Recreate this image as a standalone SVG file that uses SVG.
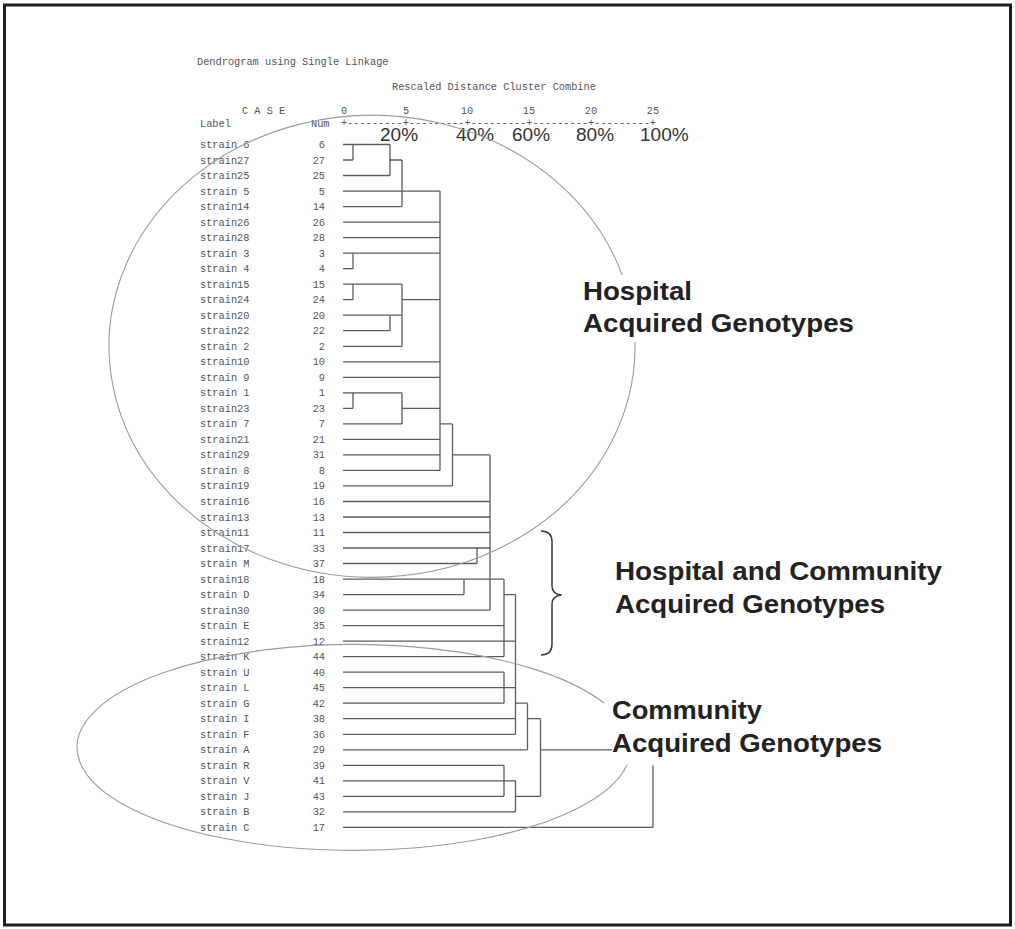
<svg xmlns="http://www.w3.org/2000/svg" width="1015" height="929" viewBox="0 0 1015 929">
<style>
.mono{font-family:"Liberation Mono","DejaVu Sans Mono",monospace;font-size:10.3px;fill:#555}
.num{text-anchor:end}
.pct{font-family:"Liberation Sans",Arial,sans-serif;font-size:19px;fill:#333}
.big{font-family:"Liberation Sans",Arial,sans-serif;font-weight:bold;font-size:25px;fill:#222}
.ln{stroke:#5c5c5c;stroke-width:1.3;fill:none}
.ell{stroke:#9c9c9c;stroke-width:1.1;fill:none}
</style>
<rect x="0" y="0" width="1015" height="929" fill="#fff"/>
<rect x="4.5" y="5" width="1006" height="920" fill="none" stroke="#1e1e1e" stroke-width="3"/>

<g id="header">
<text class="mono" x="197" y="65">Dendrogram using Single Linkage</text>
<text class="mono" x="392" y="90">Rescaled Distance Cluster Combine</text>
<text class="mono" x="242" y="114">C A S E</text>
<text class="mono" x="344" y="114" text-anchor="middle">0</text>
<text class="mono" x="406" y="114" text-anchor="middle">5</text>
<text class="mono" x="467" y="114" text-anchor="middle">10</text>
<text class="mono" x="529" y="114" text-anchor="middle">15</text>
<text class="mono" x="591" y="114" text-anchor="middle">20</text>
<text class="mono" x="653" y="114" text-anchor="middle">25</text>
<text class="mono" x="200" y="127">Label</text>
<text class="mono" x="311" y="127">Num</text>
<text class="mono" x="340.9" y="126">+---------+---------+---------+---------+---------+</text>
<text class="pct" x="380" y="140.5">20%</text>
<text class="pct" x="456" y="140.5">40%</text>
<text class="pct" x="512" y="140.5">60%</text>
<text class="pct" x="576" y="140.5">80%</text>
<text class="pct" x="640" y="140.5">100%</text>
</g>

<g id="rows">
<g id="r0"><text class="mono" x="200" y="148">strain 6</text><text class="mono num" x="325" y="148">6</text></g>
<g id="r1"><text class="mono" x="200" y="163.5">strain27</text><text class="mono num" x="325" y="163.5">27</text></g>
<g id="r2"><text class="mono" x="200" y="179">strain25</text><text class="mono num" x="325" y="179">25</text></g>
<g id="r3"><text class="mono" x="200" y="194.6">strain 5</text><text class="mono num" x="325" y="194.6">5</text></g>
<g id="r4"><text class="mono" x="200" y="210.1">strain14</text><text class="mono num" x="325" y="210.1">14</text></g>
<g id="r5"><text class="mono" x="200" y="225.6">strain26</text><text class="mono num" x="325" y="225.6">26</text></g>
<g id="r6"><text class="mono" x="200" y="241.1">strain28</text><text class="mono num" x="325" y="241.1">28</text></g>
<g id="r7"><text class="mono" x="200" y="256.6">strain 3</text><text class="mono num" x="325" y="256.6">3</text></g>
<g id="r8"><text class="mono" x="200" y="272.2">strain 4</text><text class="mono num" x="325" y="272.2">4</text></g>
<g id="r9"><text class="mono" x="200" y="287.7">strain15</text><text class="mono num" x="325" y="287.7">15</text></g>
<g id="r10"><text class="mono" x="200" y="303.2">strain24</text><text class="mono num" x="325" y="303.2">24</text></g>
<g id="r11"><text class="mono" x="200" y="318.7">strain20</text><text class="mono num" x="325" y="318.7">20</text></g>
<g id="r12"><text class="mono" x="200" y="334.2">strain22</text><text class="mono num" x="325" y="334.2">22</text></g>
<g id="r13"><text class="mono" x="200" y="349.8">strain 2</text><text class="mono num" x="325" y="349.8">2</text></g>
<g id="r14"><text class="mono" x="200" y="365.3">strain10</text><text class="mono num" x="325" y="365.3">10</text></g>
<g id="r15"><text class="mono" x="200" y="380.8">strain 9</text><text class="mono num" x="325" y="380.8">9</text></g>
<g id="r16"><text class="mono" x="200" y="396.3">strain 1</text><text class="mono num" x="325" y="396.3">1</text></g>
<g id="r17"><text class="mono" x="200" y="411.8">strain23</text><text class="mono num" x="325" y="411.8">23</text></g>
<g id="r18"><text class="mono" x="200" y="427.4">strain 7</text><text class="mono num" x="325" y="427.4">7</text></g>
<g id="r19"><text class="mono" x="200" y="442.9">strain21</text><text class="mono num" x="325" y="442.9">21</text></g>
<g id="r20"><text class="mono" x="200" y="458.4">strain29</text><text class="mono num" x="325" y="458.4">31</text></g>
<g id="r21"><text class="mono" x="200" y="473.9">strain 8</text><text class="mono num" x="325" y="473.9">8</text></g>
<g id="r22"><text class="mono" x="200" y="489.4">strain19</text><text class="mono num" x="325" y="489.4">19</text></g>
<g id="r23"><text class="mono" x="200" y="505">strain16</text><text class="mono num" x="325" y="505">16</text></g>
<g id="r24"><text class="mono" x="200" y="520.5">strain13</text><text class="mono num" x="325" y="520.5">13</text></g>
<g id="r25"><text class="mono" x="200" y="536">strain11</text><text class="mono num" x="325" y="536">11</text></g>
<g id="r26"><text class="mono" x="200" y="551.5">strain17</text><text class="mono num" x="325" y="551.5">33</text></g>
<g id="r27"><text class="mono" x="200" y="567">strain M</text><text class="mono num" x="325" y="567">37</text></g>
<g id="r28"><text class="mono" x="200" y="582.6">strain18</text><text class="mono num" x="325" y="582.6">18</text></g>
<g id="r29"><text class="mono" x="200" y="598.1">strain D</text><text class="mono num" x="325" y="598.1">34</text></g>
<g id="r30"><text class="mono" x="200" y="613.6">strain30</text><text class="mono num" x="325" y="613.6">30</text></g>
<g id="r31"><text class="mono" x="200" y="629.1">strain E</text><text class="mono num" x="325" y="629.1">35</text></g>
<g id="r32"><text class="mono" x="200" y="644.6">strain12</text><text class="mono num" x="325" y="644.6">12</text></g>
<g id="r33"><text class="mono" x="200" y="660.2">strain K</text><text class="mono num" x="325" y="660.2">44</text></g>
<g id="r34"><text class="mono" x="200" y="675.7">strain U</text><text class="mono num" x="325" y="675.7">40</text></g>
<g id="r35"><text class="mono" x="200" y="691.2">strain L</text><text class="mono num" x="325" y="691.2">45</text></g>
<g id="r36"><text class="mono" x="200" y="706.7">strain G</text><text class="mono num" x="325" y="706.7">42</text></g>
<g id="r37"><text class="mono" x="200" y="722.2">strain I</text><text class="mono num" x="325" y="722.2">38</text></g>
<g id="r38"><text class="mono" x="200" y="737.8">strain F</text><text class="mono num" x="325" y="737.8">36</text></g>
<g id="r39"><text class="mono" x="200" y="753.3">strain A</text><text class="mono num" x="325" y="753.3">29</text></g>
<g id="r40"><text class="mono" x="200" y="768.8">strain R</text><text class="mono num" x="325" y="768.8">39</text></g>
<g id="r41"><text class="mono" x="200" y="784.3">strain V</text><text class="mono num" x="325" y="784.3">41</text></g>
<g id="r42"><text class="mono" x="200" y="799.8">strain J</text><text class="mono num" x="325" y="799.8">43</text></g>
<g id="r43"><text class="mono" x="200" y="815.4">strain B</text><text class="mono num" x="325" y="815.4">32</text></g>
<g id="r44"><text class="mono" x="200" y="830.9">strain C</text><text class="mono num" x="325" y="830.9">17</text></g>
</g>

<g id="connectors">
<path class="ln" d="M343,144.5H390 M343,160H353 M343,175.5H390 M343,191.1H440 M343,206.6H402 M343,222.1H440 M343,237.6H440 M343,253.1H440 M343,268.7H353 M343,284.2H402 M343,299.7H353 M343,315.2H402 M343,330.7H390 M343,346.3H402 M343,361.8H440 M343,377.3H440 M343,392.8H402 M343,408.3H353 M343,423.9H402 M343,439.4H440 M343,454.9H440 M343,470.4H440 M343,485.9H452.5 M343,501.5H490 M343,517H490 M343,532.5H490 M343,548H490 M343,563.5H477 M343,579.1H504 M343,594.6H464 M343,610.1H490 M343,625.6H504 M343,641.1H515.5 M343,656.7H504 M343,672.2H504 M343,687.7H515.5 M343,703.2H504 M343,718.7H515.5 M343,734.3H515.5 M343,749.8H527.5 M343,765.3H504 M343,780.8H515.5 M343,796.3H504 M343,811.9H515.5 M343,827.4H653"/>
<path class="ln" d="M353,144.5V160 M353,253.1V268.7 M353,284.2V299.7 M353,392.8V408.3 M390,144.5V175.5 M390,315.2V330.7 M402,160V206.6 M402,284.2V346.3 M402,392.8V423.9 M440,191.1V470.4 M452.5,423.9V485.9 M477,548V563.5 M464,579.1V594.6 M490,454.9V610.1 M504,579.1V656.7 M504,672.2V703.2 M504,765.3V796.3 M515.5,594.6V734.3 M515.5,780.8V811.9 M527.5,703.2V749.8 M540.5,718.7V796.3 M653,765.3V827.4"/>
<path class="ln" d="M390,160H402 M402,299.7H440 M402,408.3H440 M440,423.9H452.5 M452.5,454.9H490 M504,594.6H515.5 M515.5,703.2H527.5 M527.5,718.7H540.5 M540.5,749.8H612 M515.5,796.3H540.5"/>
</g>

<g id="hospital-group">
<path class="ell" d="M622.2,275 A263,231 0 1 0 635,342"/>
<text class="big" x="583" y="300" textLength="109" lengthAdjust="spacingAndGlyphs">Hospital</text>
<text class="big" x="583" y="332" textLength="271" lengthAdjust="spacingAndGlyphs">Acquired Genotypes</text>
</g>

<g id="mixed-group">
<path d="M541,531 Q552,531 552,542 L552,586 Q552,594 561.5,595 Q552,596 552,604 L552,644 Q552,655 541,655" fill="none" stroke="#3a3a3a" stroke-width="1.5"/>
<text class="big" x="615" y="580" textLength="327" lengthAdjust="spacingAndGlyphs">Hospital and Community</text>
<text class="big" x="615" y="613" textLength="270" lengthAdjust="spacingAndGlyphs">Acquired Genotypes</text>
</g>

<g id="community-group">
<path class="ell" d="M604,703 A277,103 0 1 0 627,765"/>
<text class="big" x="612" y="719" textLength="150" lengthAdjust="spacingAndGlyphs">Community</text>
<text class="big" x="612" y="752" textLength="270" lengthAdjust="spacingAndGlyphs">Acquired Genotypes</text>
</g>
</svg>
